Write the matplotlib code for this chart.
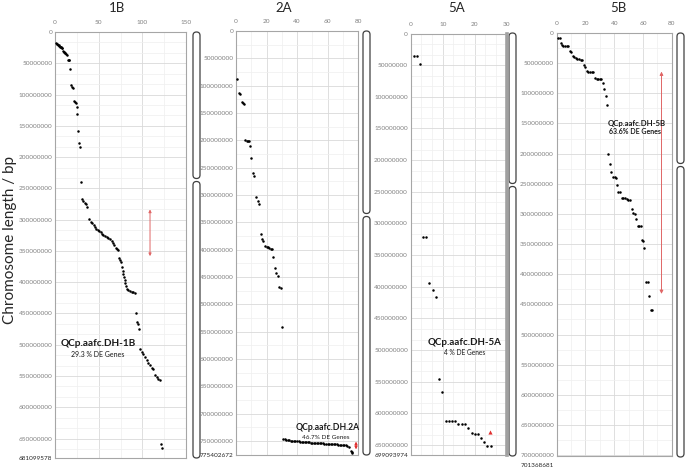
import matplotlib
matplotlib.use('Agg')
import matplotlib.pyplot as plt
from matplotlib.patches import FancyBboxPatch
from matplotlib.ticker import MultipleLocator, FixedLocator, FuncFormatter

plt.rcParams['font.family'] = ['Lato', 'DejaVu Sans']

W, H = 685, 468

# ---------------- data ----------------
titles = ['1B', '2A', '5A', '5B']
chrom_len = [681099578, 775402672, 699093974, 701368681]
xmax = [150, 80, 30, 80]
xmajor = [50, 20, 10, 20]
qtl_names = ['QCp.aafc.DH-1B', 'QCp.aafc.DH.2A', 'QCp.aafc.DH-5A', 'QCp.aafc.DH-5B']
qtl_pct = ['29.3 % DE Genes', '46.7% DE Genes', '4 % DE Genes', '63.6% DE Genes']

# 1B : x = marker order, y = position (Mb)
b1_x = [1.1, 2.0, 2.7, 3.5, 4.2, 5.0, 5.7, 6.3, 6.9, 7.6, 8.4, 9.5, 10.1, 10.7, 11.3, 11.8, 12.6,
        13.4, 14.5, 15.5, 16.4, 17.6, 18.7, 19.4, 20.2, 22.1, 22.9, 23.7, 24.8, 25.6, 26.7, 27.5,
        28.6, 29.8, 31.3, 32.4, 34.0, 35.5, 37.0, 39.3, 40.9, 42.4, 44.3, 45.8, 47.3, 48.9, 50.4,
        52.3, 53.8, 55.4, 57.3, 59.2, 61.1, 63.0, 64.9, 66.4, 68.0, 69.5, 70.6, 71.8, 73.3, 74.4,
        75.6, 76.7, 77.5, 78.3, 79.1, 79.9, 80.6, 81.3, 82.1, 84.0, 85.9, 87.8, 89.7, 91.6, 92.4,
        93.5, 94.7, 95.8, 97.4, 99.3, 101.2, 103.1, 105.0, 106.9, 108.8, 110.7, 112.6, 114.5,
        116.4, 118.3, 120.3, 121.4, 122.9]
b1_y = [17.6, 18.4, 19.2, 20.3, 21.3, 22.4, 23.5, 24.0, 24.5, 25.0, 25.6, 30.4, 31.2, 32.0, 32.8,
        33.6, 35.2, 36.8, 44.3, 44.8, 45.3, 58.7, 85.3, 87.5, 89.6, 110.9, 112.0, 113.1, 120.0,
        130.7, 158.4, 177.6, 184.0, 239.5, 267.2, 269.9, 273.1, 275.7, 279.5, 299.7, 303.5, 306.0,
        308.8, 312.5, 315.7, 316.8, 317.9, 320.5, 322.7, 324.8, 326.4, 328.5, 330.1, 331.7, 333.9,
        337.0, 340.8, 345.0, 347.7, 348.8, 362.1, 364.8, 367.5, 376.5, 381.8, 387.2, 392.5, 396.8,
        402.1, 406.4, 410.1, 411.7, 413.9, 414.9, 416.0, 416.5, 449.0, 463.5, 467.2, 474.1, 506.1,
        511.5, 515.2, 519.5, 524.8, 529.1, 532.8, 536.5, 538.2, 548.8, 551.5, 554.2, 555.7, 658.0,
        665.0]

# 2A
a2_x = [0.9, 2.0, 2.8, 4.0, 4.6, 5.3, 6.2, 7.1, 7.9, 8.4, 9.0, 10.1, 11.2, 12.1, 13.2, 14.1, 15.2,
        16.3, 17.2, 18.0, 19.2, 20.0, 21.0, 21.8, 22.7, 23.4, 24.3, 25.3, 26.4, 27.6, 28.4, 29.3,
        30.4,
        31, 32, 33, 34, 35, 36, 37, 38, 39, 40, 41, 42, 43, 44, 45, 46, 47, 48, 49, 50, 51, 52,
        53, 54, 55, 56, 57, 58, 59, 60, 61, 62, 63, 64, 65, 66, 67, 68, 69, 70, 71, 72, 73, 74,
        75.4, 75.8, 76.2]
a2_y = [87.8, 113.4, 115.8, 129.9, 132.3, 134.0, 200.0, 200.8, 201.4, 201.4, 211.0, 232.0, 260.3,
        265.2, 304.2, 310.4, 317.0, 371.9, 381.0, 384.7, 392.7, 394.6, 395.7, 397.5, 398.8, 399.4,
        412.9, 433.0, 443.3, 448.2, 467.8, 470.1, 540.9,
        746.3, 746.9, 747.6, 748.2, 748.7, 749.0, 749.3, 749.6, 749.9, 750.2, 750.5, 750.8, 751.1,
        751.4, 751.7, 752.0, 752.2, 752.4, 752.6, 752.8, 753.0, 753.2, 753.4, 753.6, 753.8, 754.0,
        754.2, 754.4, 754.6, 754.9, 755.2, 755.3, 755.5, 755.7, 755.9, 756.0, 756.3, 756.6,
        756.9, 757.2, 757.5, 757.8, 759.0, 760.4,
        767.5, 769.5, 771.0]

# 5A
a5_x = [1.0, 1.9, 2.9, 3.75, 4.8, 5.8, 6.9, 7.9, 8.9, 9.9, 10.9, 11.9, 12.8, 13.8, 14.9, 15.9,
        17.0, 18.0, 19.1, 20.1, 20.9, 22.0, 23.0, 23.9, 25.0]
a5_y = [35.4, 35.4, 48.5, 321.8, 321.8, 393.5, 405.5, 416.0, 546.0, 565.6, 611.9, 611.9, 611.9,
        611.9, 617.0, 617.0, 617.0, 623.4, 630.4, 632.0, 633.0, 639.2, 644.5, 650.9, 650.9]

# 5B
b5_x = [1.1, 2.1, 3.0, 3.9, 4.6, 5.8, 7.0, 8.1, 9.3, 9.9, 11.1, 12.0, 13.2, 14.3, 15.5, 16.7,
        17.6, 19.0, 19.9, 21.3, 22.0, 23.2, 24.3, 25.0, 26.6, 27.8, 28.9, 30.1, 30.8, 32.0, 33.1,
        34.1, 35.0, 35.9, 37.1, 38.1, 39.4, 40.6, 41.5, 42.2, 42.9, 43.8, 45.2, 46.3, 47.5, 48.7,
        49.8, 51.0, 52.4, 53.3, 54.3, 55.2, 56.3, 57.5, 58.4, 59.1, 60.0, 61.0, 62.1, 63.3, 64.4,
        65.4, 66.3]
b5_y = [8.8, 8.8, 17.1, 20.4, 21.5, 21.5, 21.5, 21.5, 29.3, 31.0, 37.6, 40.2, 41.9, 42.5, 43.0,
        44.7, 45.2, 53.5, 55.8, 62.9, 64.0, 64.0, 64.0, 65.1, 74.5, 75.7, 75.7, 75.7, 76.7, 83.3,
        93.2, 103.8, 119.7, 200.8, 216.4, 230.1, 238.9, 238.9, 239.6, 252.8, 263.7, 264.4, 273.2,
        273.7, 274.3, 274.8, 276.5, 277.6, 291.9, 299.2, 299.7, 308.4, 320.0, 320.0, 320.0, 342.7,
        344.4, 357.1, 413.4, 413.4, 436.6, 458.6, 459.1]

series_x = [b1_x, a2_x, a5_x, b5_x]
series_y = [b1_y, a2_y, a5_y, b5_y]

# QTL interval markers (x, y_start Mb, y_end Mb)
qtl_arrow = [(108.8, 283.7, 358.4), (78.7, 751.0, 765.0), (24.8, 626.0, 633.0), (72.9, 64.0, 432.6)]

# ---------------- layout (pixels) ----------------
ax_px = [(55, 186, 32, 458), (236, 358, 31, 455), (410.7, 506.7, 33.5, 455), (556.7, 671.7, 33, 456)]
ylim_bp = [681099578, 775402672, 665.6e6, 701368681]
ymin_div = [3, 2, 3, 2]
xmin_div = [2, 2, 3, 2]
label_pos = [((49.3, 497.6), (49.3, 515.2)), ((60.0, 725.6), (58.8, 744.0)),
             ((16.7, 487.6), (17.0, 504.5)), ((55.7, 150.7), (54.3, 162.7))]
name_size = [7.2, 6.2, 7.0, 5.6]
pct_size = [5.0, 4.6, 4.8, 5.0]
title_px = [117, 284, 457, 618]
chrom_px = [(193, 200, 32, 458, 180), (363, 370, 31, 455, 215),
            (509, 516, 33, 456, 185), (677, 684, 33, 457, 165)]

fig = plt.figure(figsize=(W / 100, H / 100), dpi=100)

def rect(x0, x1, y0, y1):
    return [x0 / W, 1 - y1 / H, (x1 - x0) / W, (y1 - y0) / H]

fmt = FuncFormatter(lambda v, p: f'{int(round(v))}')
tick_col = '#808080'

for i in range(4):
    x0, x1, y0, y1 = ax_px[i]
    ax = fig.add_axes(rect(x0, x1, y0, y1))
    ax.set_xlim(0, xmax[i])
    ax.set_ylim(ylim_bp[i], 0)
    ax.xaxis.tick_top()
    ax.xaxis.set_major_locator(MultipleLocator(xmajor[i]))
    ax.xaxis.set_minor_locator(MultipleLocator(xmajor[i] / xmin_div[i]))
    top = 700e6 if i == 3 else (ylim_bp[i] // 50e6) * 50e6
    yt = [k * 50e6 for k in range(int(top // 50e6) + 1)]
    ax.yaxis.set_major_locator(FixedLocator(yt))
    ax.yaxis.set_minor_locator(MultipleLocator(50e6 / ymin_div[i]))
    ax.yaxis.set_major_formatter(fmt)
    ax.xaxis.set_major_formatter(fmt)
    ax.tick_params(which='both', length=0, labelsize=4.6, colors=tick_col)
    ax.tick_params(axis='x', pad=5)
    ax.tick_params(axis='y', pad=2)
    ax.grid(which='major', color='#d9d9d9', lw=0.6)
    ax.grid(which='minor', color='#efefef', lw=0.5)
    ax.set_axisbelow(True)
    for s in ax.spines.values():
        s.set_color('#a6a6a6')
        s.set_linewidth(0.8)
    if i == 2:
        ax.spines['right'].set_linewidth(2.6)
        ax.spines['right'].set_color('#a0a0a0')

    # chromosome length label at bottom
    dy = -6.5 if i == 3 else 0
    ax.annotate(str(chrom_len[i]), xy=(0, ylim_bp[i]), xycoords='data',
                xytext=(-2, dy), textcoords='offset points', ha='right', va='center',
                fontsize=4.6, color='#262626', annotation_clip=False)

    ax.plot(series_x[i], [v * 1e6 for v in series_y[i]], 'o', color='black',
            ms=1.8, mew=0, ls='none', clip_on=False, zorder=3)

    # QTL interval arrows
    qx, qa, qb = qtl_arrow[i]
    if i == 2:
        ax.plot([qx], [(qa + qb) / 2 * 1e6], marker='^', color='#e03030', ms=3, mew=0,
                clip_on=False, zorder=4)
    else:
        col = '#e06666' if i != 1 else '#e03030'
        ax.annotate('', xy=(qx, qa * 1e6), xytext=(qx, qb * 1e6),
                    arrowprops=dict(arrowstyle='<|-|>', color=col, lw=0.7,
                                    mutation_scale=4 if i != 3 else 5,
                                    shrinkA=0, shrinkB=0), annotation_clip=False)

    (nx, ny), (px, py) = label_pos[i]
    ax.text(nx, ny * 1e6, qtl_names[i], ha='center', va='center', fontsize=name_size[i],
            fontweight='bold', color='#1a1a1a')
    ax.text(px, py * 1e6, qtl_pct[i], ha='center', va='center', fontsize=pct_size[i],
            fontweight='bold' if i == 3 else 'normal', color='#1a1a1a')

    fig.text(title_px[i] / W, 1 - 8 / H, titles[i], ha='center', va='center', fontsize=9.5,
             color='#262626')

# chromosome outlines
ov = fig.add_axes([0, 0, 1, 1], zorder=-1)
ov.set_xlim(0, W)
ov.set_ylim(H, 0)
ov.axis('off')
for (cx0, cx1, ct, cb, cc) in chrom_px:
    w = cx1 - cx0
    r = w / 2
    for (a, b) in [(ct, cc - 1.5), (cc + 1.5, cb)]:
        p = FancyBboxPatch((cx0 + r, a + r), 0, b - a - 2 * r,
                           boxstyle=f'round,pad={r}', fc='white', ec='#404040', lw=0.9)
        ov.add_patch(p)

fig.text(10 / W, 1 - 240 / H, 'Chromosome length / bp', rotation=90, ha='center',
         va='center', fontsize=11, color='#262626')

fig.savefig('out.png', dpi=100)
